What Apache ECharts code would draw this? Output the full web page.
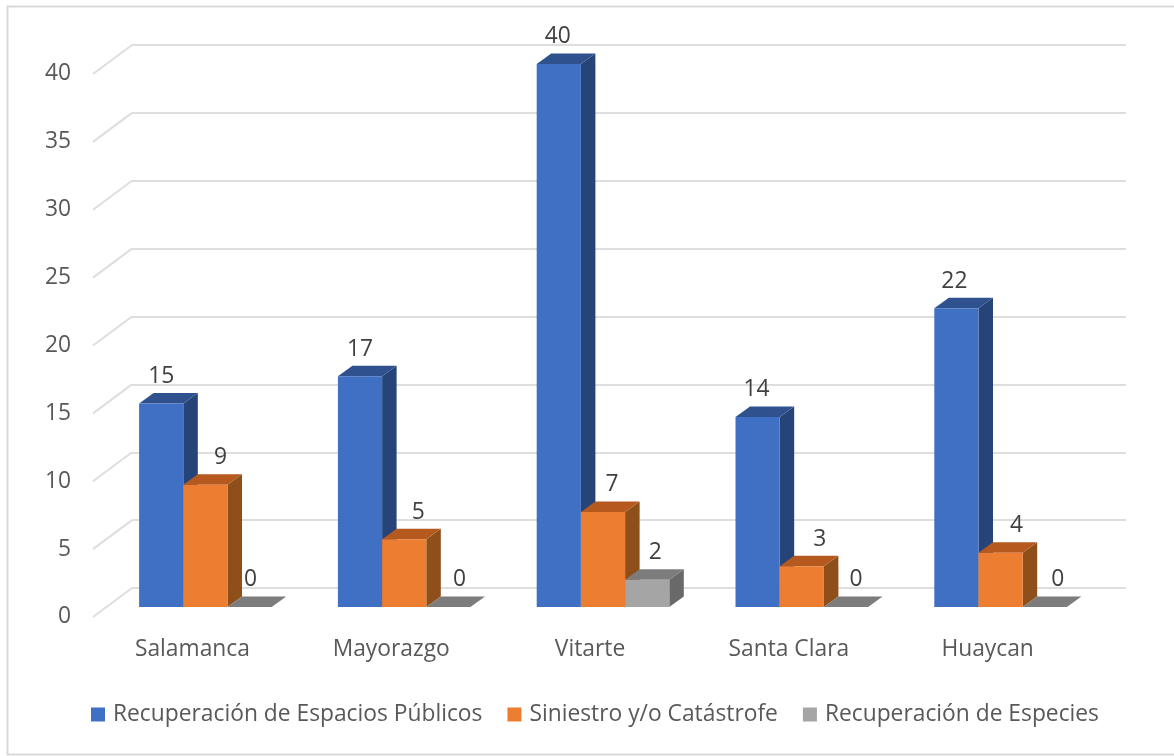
<!DOCTYPE html>
<html>
<head>
<meta charset="utf-8">
<style>html,body{margin:0;padding:0;background:#fff}#c{width:1174px;height:756px}</style>
<script src="https://cdn.jsdelivr.net/npm/echarts@6/dist/echarts.min.js"></script>
</head>
<body>
<div id="c"></div>
<script>
const categories = ['Salamanca', 'Mayorazgo', 'Vitarte', 'Santa Clara', 'Huaycan'];
const espacios = [15, 17, 40, 14, 22];
const siniestro = [9, 5, 7, 3, 4];
const especies = [0, 0, 2, 0, 0];
const yMin = 0, yMax = 40, yStep = 5;
const yTicks = [0, 5, 10, 15, 20, 25, 30, 35, 40];
const seriesNames = ['Recuperación de Espacios Públicos', 'Siniestro y/o Catástrofe', 'Recuperación de Especies'];

// style: front / top / side shades
const shades = [
  ['#4070C4', '#2F528F', '#264478'],
  ['#ED7D31', '#B5591F', '#8F4F1A'],
  ['#A5A5A5', '#7C7C7C', '#696969']
];
const labelShift = [[0, 0, -1, -1, -2], [15, 14, 9, 18, 16], [1, 11, 8, 10, 13]];
const textColor = '#595959', gridColor = '#DEDEDE';
const fontFamily = '"Open Sans", sans-serif', fontSize = 22.8;
const floorDx = 39, floorDy = -29;     // front edge of floor to back wall
const barInDx = 13, barInDy = -10;     // front edge of floor to bar fronts
const depthDx = 14.5, depthDy = -10.5; // bar depth
const barW = 44.2;

function barSeries(name, values, si) {
  return {
    name, type: 'custom', xAxisIndex: 0, yAxisIndex: 0, z: 5 + si,
    itemStyle: { color: shades[si][0] },
    data: values.map((v, i) => [i, v]),
    encode: { x: 0, y: 1 },
    renderItem(params, api) {
      const i = api.value(0), v = api.value(1);
      const top = api.coord([i, v]), base = api.coord([i, 0]);
      const l = top[0] + barInDx + (si - 1.5) * barW, r = l + barW;
      const yt = top[1] + barInDy, yb = base[1] + barInDy;
      const poly = (points, fill) => ({ type: 'polygon', shape: { points }, style: { fill } });
      const ch = [];
      ch.push(poly([[r, yt], [r + depthDx, yt + depthDy], [r + depthDx, yb + depthDy], [r, yb]], shades[si][2]));
      ch.push(poly([[l, yt], [l + depthDx, yt + depthDy], [r + depthDx, yt + depthDy], [r, yt]], shades[si][1]));
      if (v > 0) ch.push({ type: 'rect', shape: { x: l, y: yt, width: barW, height: yb - yt }, style: { fill: shades[si][0] } });
      ch.push({ type: 'text', z2: 10, style: {
        text: String(v), x: (l + r) / 2 + labelShift[si][i], y: yt - 27,
        align: 'center', verticalAlign: 'middle',
        fill: '#404040', font: fontSize + 'px ' + fontFamily } });
      return { type: 'group', children: ch };
    }
  };
}

const option = {
  animation: false,
  backgroundColor: '#fff',
  graphic: [{ type: 'rect', z: -1, silent: true,
    shape: { x: 7.5, y: 6.5, width: 1180, height: 748 },
    style: { fill: 'none', stroke: '#D9D9D9', lineWidth: 2 } }],
  legend: {
    left: 91, top: 703, padding: 0, itemWidth: 14, itemHeight: 14, itemGap: 25,
    icon: 'rect', data: seriesNames,
    textStyle: { color: textColor, fontSize, fontFamily, padding: [0, 0, 0, 3] }
  },
  grid: [
    { left: 93, top: 74, width: 994, height: 543 },
    { left: 132, top: 45, width: 994, height: 543 }
  ],
  xAxis: [
    { type: 'category', gridIndex: 0, data: categories,
      axisLine: { show: false }, axisTick: { show: false }, splitLine: { show: false },
      axisLabel: { color: textColor, fontSize, fontFamily, margin: 21 } },
    { type: 'category', gridIndex: 1, data: categories, show: false }
  ],
  yAxis: [
    { type: 'value', gridIndex: 0, min: yMin, max: yMax, interval: yStep,
      axisLine: { show: false }, axisTick: { show: false }, splitLine: { show: false },
      axisLabel: { color: textColor, fontSize, fontFamily, margin: 22 } },
    { type: 'value', gridIndex: 1, min: yMin, max: yMax, interval: yStep,
      axisLine: { show: false }, axisTick: { show: false }, axisLabel: { show: false },
      splitLine: { show: true, lineStyle: { color: gridColor, width: 2 } } }
  ],
  series: [
    { type: 'custom', xAxisIndex: 0, yAxisIndex: 0, z: 1, silent: true,
      data: yTicks.map(t => [0, t]), encode: { x: 0, y: 1 },
      renderItem(params, api) {
        const p = api.coord([0, api.value(1)]), x = params.coordSys.x;
        return { type: 'line', shape: { x1: x, y1: p[1], x2: x + floorDx, y2: p[1] + floorDy },
          style: { stroke: gridColor, lineWidth: 2, fill: 'none' } };
      } },
    barSeries(seriesNames[0], espacios, 0),
    barSeries(seriesNames[1], siniestro, 1),
    barSeries(seriesNames[2], especies, 2)
  ]
};
echarts.init(document.getElementById('c'), null, { renderer: 'canvas' }).setOption(option);
</script>
</body>
</html>
